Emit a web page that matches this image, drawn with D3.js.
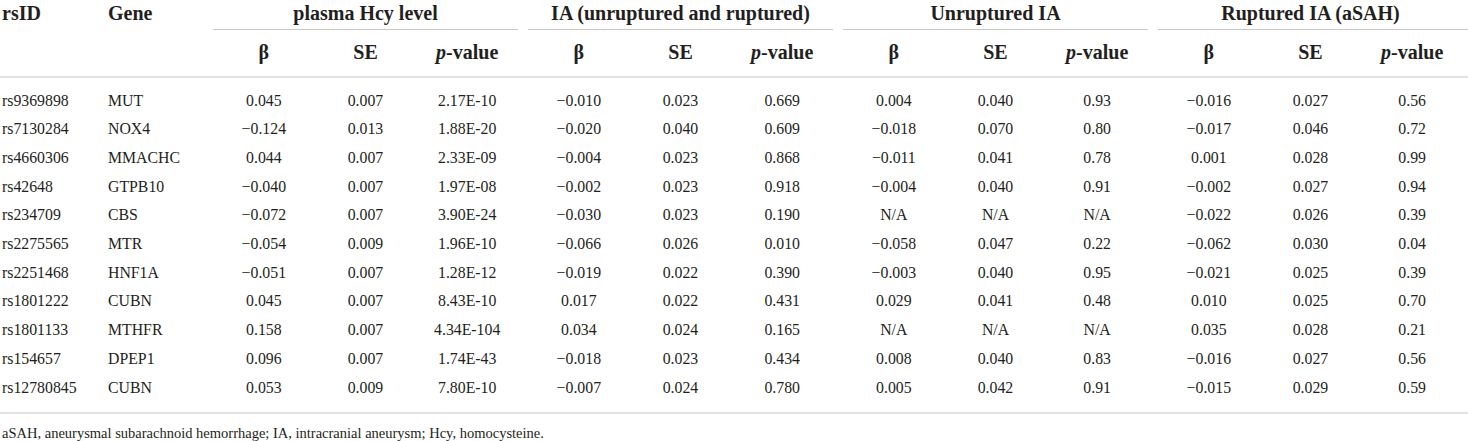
<!DOCTYPE html>
<html>
<head>
<meta charset="utf-8">
<script src="https://cdn.jsdelivr.net/npm/d3@7"></script>
<style>
  body { margin: 0; background: #fff; }
  svg text { font-family: "Liberation Serif", "Times New Roman", serif; fill: #231f20; }
</style>
</head>
<body>
<div id="chart"></div>
<script>
// table data
const rsIDs = ["rs9369898", "rs7130284", "rs4660306", "rs42648", "rs234709", "rs2275565",
    "rs2251468", "rs1801222", "rs1801133", "rs154657", "rs12780845"];
const genes = ["MUT", "NOX4", "MMACHC", "GTPB10", "CBS", "MTR", "HNF1A", "CUBN", "MTHFR", "DPEP1", "CUBN"];

const groups = ["plasma Hcy level", "IA (unruptured and ruptured)", "Unruptured IA", "Ruptured IA (aSAH)"];
const subHeads = ["β", "SE", "p-value"];

// each row: beta, se, p   (one array per group)
const hcyVals = [
    ["0.045", "0.007", "2.17E-10"], ["−0.124", "0.013", "1.88E-20"], ["0.044", "0.007", "2.33E-09"],
    ["−0.040", "0.007", "1.97E-08"], ["−0.072", "0.007", "3.90E-24"], ["−0.054", "0.009", "1.96E-10"],
    ["−0.051", "0.007", "1.28E-12"], ["0.045", "0.007", "8.43E-10"], ["0.158", "0.007", "4.34E-104"],
    ["0.096", "0.007", "1.74E-43"], ["0.053", "0.009", "7.80E-10"]
];
const iaVals = [
    ["−0.010", "0.023", "0.669"], ["−0.020", "0.040", "0.609"], ["−0.004", "0.023", "0.868"],
    ["−0.002", "0.023", "0.918"], ["−0.030", "0.023", "0.190"], ["−0.066", "0.026", "0.010"],
    ["−0.019", "0.022", "0.390"], ["0.017", "0.022", "0.431"], ["0.034", "0.024", "0.165"],
    ["−0.018", "0.023", "0.434"], ["−0.007", "0.024", "0.780"]
];
const unrupVals = [
    ["0.004", "0.040", "0.93"], ["−0.018", "0.070", "0.80"], ["−0.011", "0.041", "0.78"],
    ["−0.004", "0.040", "0.91"], ["N/A", "N/A", "N/A"], ["−0.058", "0.047", "0.22"],
    ["−0.003", "0.040", "0.95"], ["0.029", "0.041", "0.48"], ["N/A", "N/A", "N/A"],
    ["0.008", "0.040", "0.83"], ["0.005", "0.042", "0.91"]
];
const rupVals = [
    ["−0.016", "0.027", "0.56"], ["−0.017", "0.046", "0.72"], ["0.001", "0.028", "0.99"],
    ["−0.002", "0.027", "0.94"], ["−0.022", "0.026", "0.39"], ["−0.062", "0.030", "0.04"],
    ["−0.021", "0.025", "0.39"], ["0.010", "0.025", "0.70"], ["0.035", "0.028", "0.21"],
    ["−0.016", "0.027", "0.56"], ["−0.015", "0.029", "0.59"]
];
const footnote = "aSAH, aneurysmal subarachnoid hemorrhage; IA, intracranial aneurysm; Hcy, homocysteine.";

const width = 1468, height = 441;
const lineColor = "#c8c8c8";

const svg = d3.select("#chart").append("svg")
    .attr("width", width)
    .attr("height", height);

// group blocks, then three sub-columns inside each
const groupX = d3.scaleBand().domain(groups).range([213, 1463]).paddingInner(0.0317);
const subX = d3.scaleBand().domain(d3.range(3)).range([0, groupX.bandwidth()]);
const colCenter = j => groupX(groups[Math.floor(j / 3)]) + subX(j % 3) + subX.bandwidth() / 2;

// rows
const y = d3.scalePoint().domain(d3.range(rsIDs.length)).range([100, 387]);

const allVals = [hcyVals, iaVals, unrupVals, rupVals];

// header row 1
const head = svg.append("g").attr("font-weight", "bold").attr("font-size", 20);
head.append("text").attr("x", 2).attr("y", 13).attr("dy", "0.35em").text("rsID");
head.append("text").attr("x", 108).attr("y", 13).attr("dy", "0.35em").text("Gene");

head.selectAll(".grp")
    .data(groups)
    .enter().append("text")
    .attr("class", "grp")
    .attr("x", d => groupX(d) + groupX.bandwidth() / 2)
    .attr("y", 13)
    .attr("dy", "0.35em")
    .attr("text-anchor", "middle")
    .text(d => d);

// group underlines
svg.selectAll(".grpline")
    .data(groups)
    .enter().append("line")
    .attr("class", "grpline")
    .attr("x1", d => groupX(d))
    .attr("x2", (d, i) => i === groups.length - 1 ? width : groupX(d) + groupX.bandwidth())
    .attr("y1", 29.5).attr("y2", 29.5)
    .attr("stroke", lineColor)
    .attr("stroke-width", 1.2);

// header row 2
const sub = head.selectAll(".sub")
    .data(d3.range(12))
    .enter().append("text")
    .attr("class", "sub")
    .attr("x", d => colCenter(d))
    .attr("y", 52)
    .attr("dy", "0.35em")
    .attr("text-anchor", "middle");

sub.each(function(d) {
    const h = subHeads[d % 3];
    const t = d3.select(this);
    if (h === "p-value") {
        t.append("tspan").attr("font-style", "italic").text("p");
        t.append("tspan").text("-value");
    } else {
        t.text(h);
    }
});

// horizontal rules
svg.append("line")
    .attr("x1", 0).attr("x2", width)
    .attr("y1", 77).attr("y2", 77)
    .attr("stroke", lineColor).attr("stroke-width", 1.2);

svg.append("line")
    .attr("x1", 0).attr("x2", width)
    .attr("y1", 413).attr("y2", 413)
    .attr("stroke", lineColor).attr("stroke-width", 1.2);

// body
const body = svg.append("g").attr("font-size", 15.8);

const rows = body.selectAll(".row")
    .data(rsIDs)
    .enter().append("g")
    .attr("class", "row")
    .attr("transform", (d, i) => `translate(0,${y(i)})`);

rows.append("text").attr("x", 2).attr("dy", "0.35em").text(d => d);
rows.append("text").attr("x", 108).attr("dy", "0.35em").text((d, i) => genes[i]);

rows.each(function(d, i) {
    const cells = [];
    allVals.forEach(g => g[i].forEach(v => cells.push(v)));
    d3.select(this).selectAll(".cell")
        .data(cells)
        .enter().append("text")
        .attr("class", "cell")
        .attr("x", (v, j) => colCenter(j))
        .attr("dy", "0.35em")
        .attr("text-anchor", "middle")
        .text(v => v);
});

// footnote
svg.append("text")
    .attr("x", 2)
    .attr("y", 433)
    .attr("dy", "0.35em")
    .attr("font-size", 14.5)
    .text(footnote);
</script>
</body>
</html>
